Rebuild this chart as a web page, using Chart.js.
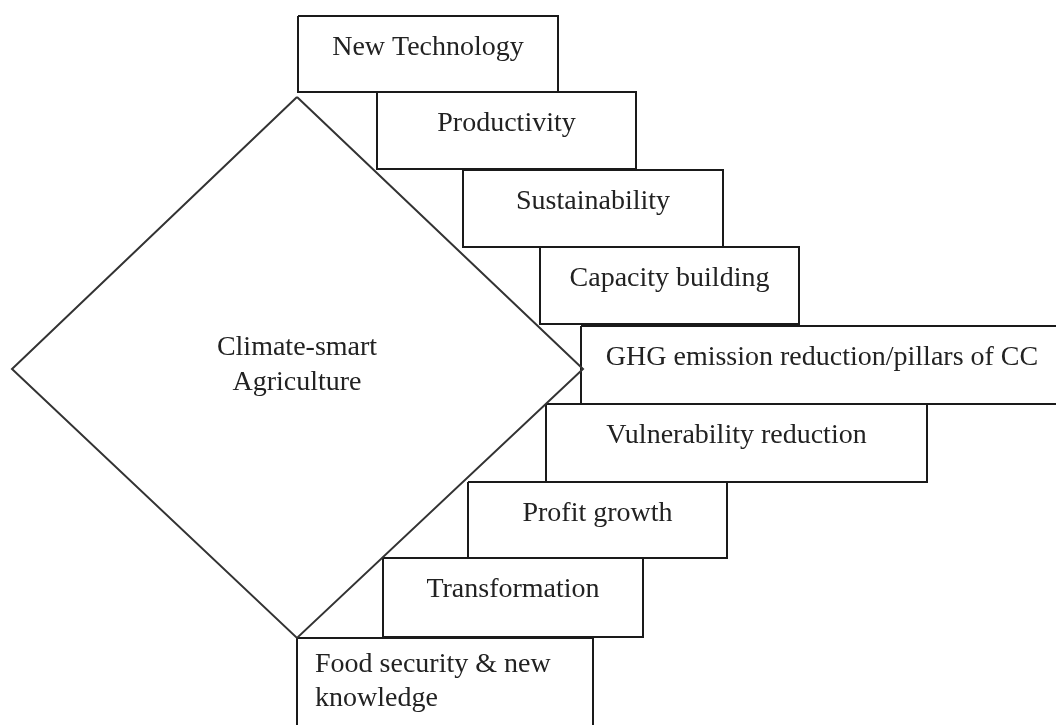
<!DOCTYPE html>
<html>
<head>
<meta charset="utf-8">
<title>Climate-smart Agriculture</title>
<script src="https://cdn.jsdelivr.net/npm/chart.js@4.4.1/dist/chart.umd.min.js"></script>
<style>
	html, body { margin: 0; padding: 0; background: #fff; }
	#diagram { display: block; }
</style>
</head>
<body>
<canvas id="diagram" width="1056" height="725"></canvas>
<script>
// step boxes, top to bottom (diagram units, y grows downwards)
var steps = [
	['New Technology'],
	['Productivity'],
	['Sustainability'],
	['Capacity building'],
	['GHG emission reduction/pillars of CC'],
	['Vulnerability reduction'],
	['Profit growth'],
	['Transformation'],
	['Food security & new', 'knowledge']
];
var stepLeft   = [298, 377, 463, 540, 581, 546, 468, 383, 297];
var stepRight  = [558, 636, 723, 799, 1063, 927, 727, 643, 593];
var stepTop    = [16, 92, 170, 247, 326, 404, 482, 558, 638];
var stepBottom = [92, 169, 247, 324, 404, 482, 558, 637, 745];

// the central diamond
var centreLines = ['Climate-smart', 'Agriculture'];
var diamondX = [297, 583, 297, 12, 297];
var diamondY = [97, 369, 638, 369, 97];

var fontFamily = '"Liberation Serif", "DejaVu Serif", serif';
var fontSize = 28;

function boxPoints(i) {
	return [
		{x: stepLeft[i], y: stepTop[i]},
		{x: stepRight[i], y: stepTop[i]},
		{x: stepRight[i], y: stepBottom[i]},
		{x: stepLeft[i], y: stepBottom[i]},
		{x: stepLeft[i], y: stepTop[i]}
	];
}

var datasets = [];
datasets.push({
	label: 'diamond',
	data: diamondX.map(function(x, i) { return {x: x, y: diamondY[i]}; }),
	borderColor: '#333',
	borderWidth: 2,
	pointRadius: 0,
	showLine: true,
	fill: false,
	tension: 0
});
for (var i = 0; i < steps.length; i++) {
	datasets.push({
		label: steps[i].join(' '),
		data: boxPoints(i),
		borderColor: '#1a1a1a',
		borderWidth: 2,
		borderJoinStyle: 'miter',
		pointRadius: 0,
		showLine: true,
		fill: false,
		tension: 0
	});
}

var labelPlugin = {
	id: 'labels',
	afterDatasetsDraw: function(chart) {
		var ctx = chart.ctx;
		var xs = chart.scales.x;
		var ys = chart.scales.y;
		ctx.save();
		ctx.fillStyle = '#222';
		ctx.font = fontSize + 'px ' + fontFamily;
		ctx.textBaseline = 'alphabetic';
		for (var i = 0; i < steps.length; i++) {
			var left = xs.getPixelForValue(stepLeft[i]);
			var right = xs.getPixelForValue(stepRight[i]);
			var top = ys.getPixelForValue(stepTop[i]);
			var lines = steps[i];
			var leftAligned = lines.length > 1;
			ctx.textAlign = leftAligned ? 'left' : 'center';
			var tx = leftAligned ? left + 18 : (left + right) / 2;
			var firstBase = lines.length > 1 ? top + 34 : top + 39;
			lines.forEach(function(line, k) {
				ctx.fillText(line, tx, firstBase + k * 34);
			});
		}
		// text inside the diamond
		var cx = xs.getPixelForValue(diamondX[0]);
		var cy = ys.getPixelForValue(diamondY[1]);
		ctx.textAlign = 'center';
		ctx.fillText(centreLines[0], cx, cy - 14);
		ctx.fillText(centreLines[1], cx, cy + 21);
		ctx.restore();
	}
};

var chart = new Chart(document.getElementById('diagram').getContext('2d'), {
	type: 'scatter',
	data: { datasets: datasets },
	options: {
		responsive: false,
		animation: false,
		layout: { padding: 0 },
		plugins: {
			legend: { display: false },
			tooltip: { enabled: false },
			title: { display: false }
		},
		scales: {
			x: { type: 'linear', min: 0, max: 1056, display: false },
			y: { type: 'linear', min: 0, max: 725, reverse: true, display: false }
		}
	},
	plugins: [labelPlugin]
});
</script>
</body>
</html>
